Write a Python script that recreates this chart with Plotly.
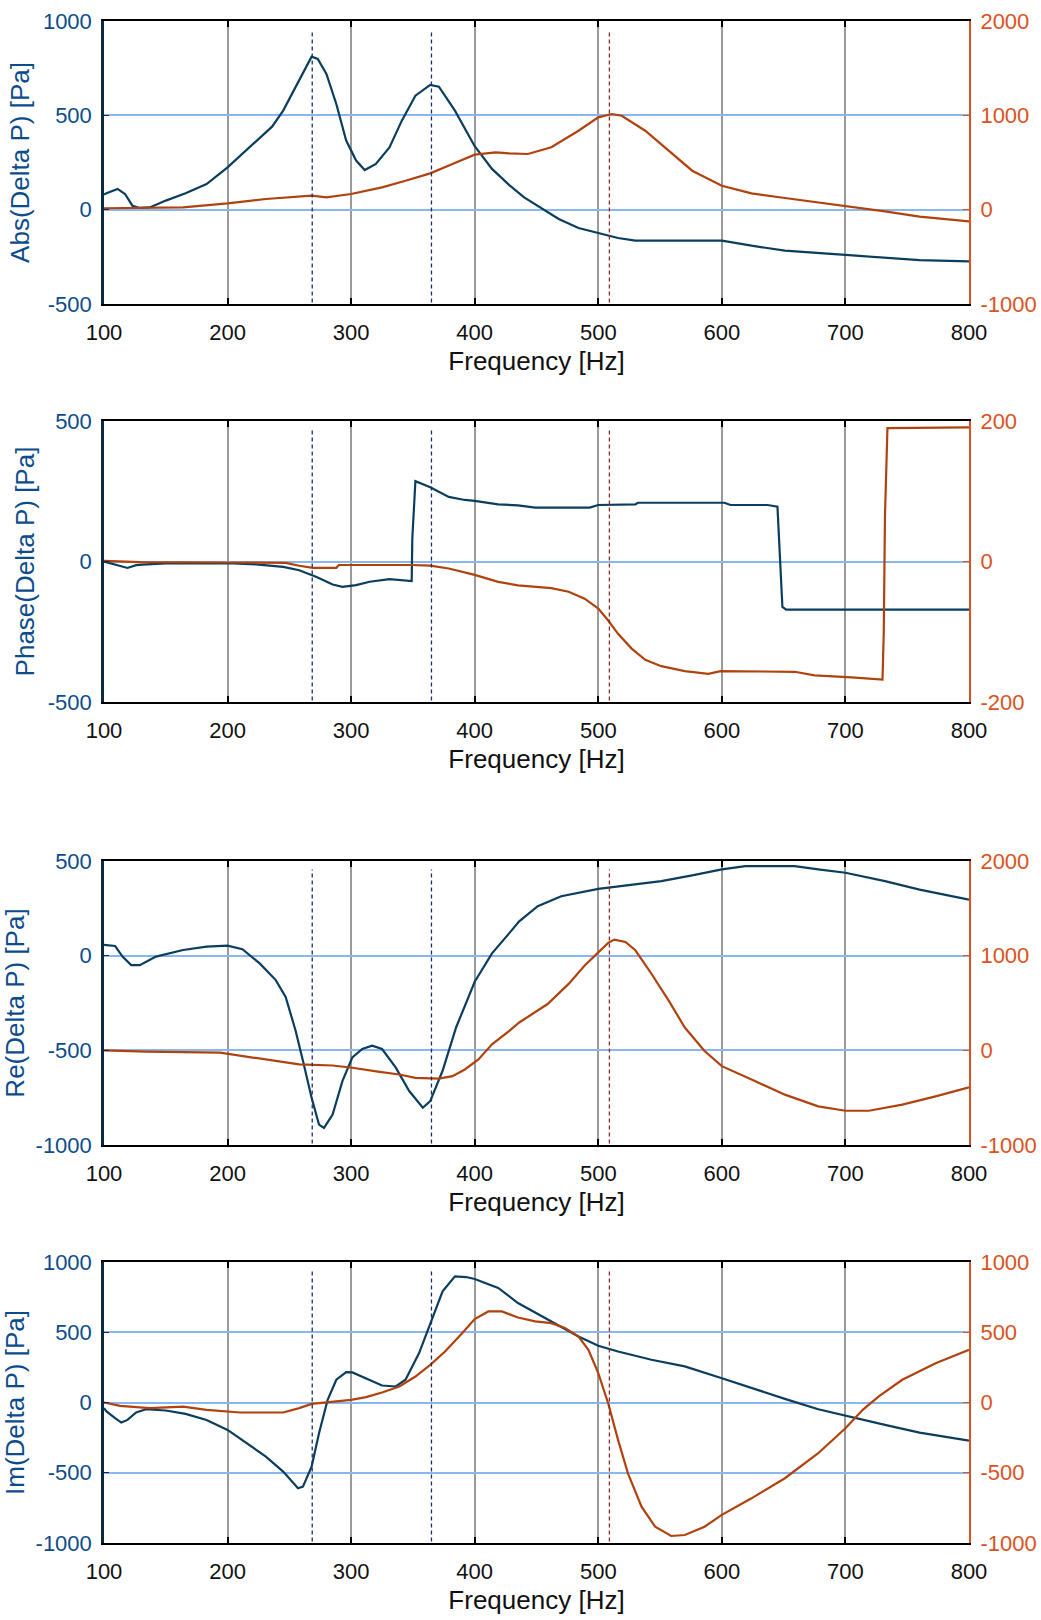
import plotly.graph_objects as go

# ---------------- data ----------------
# Plot 1: Abs(Delta P)
abs_left_f = [100, 102, 111, 117, 123, 129, 137, 150, 166, 183, 200, 218, 236, 245, 258, 268, 273, 280, 288, 296, 304, 311, 320, 331, 341, 352, 364, 371, 384, 400, 414, 428, 440, 451, 468, 484, 500, 516, 530, 600, 624, 651, 700, 732, 760, 800]
abs_left_v = [80, 87, 110, 83, 21, 9, 12, 48, 87, 136, 224, 330, 440, 525, 684, 811, 799, 719, 560, 366, 260, 210, 242, 330, 472, 604, 661, 652, 525, 336, 216, 130, 65, 21, -49, -97, -125, -150, -164, -164, -191, -217, -240, -253, -267, -274]
abs_right_f = [100, 137, 164, 200, 231, 268, 280, 300, 325, 344, 364, 382, 400, 417, 428, 443, 462, 484, 500, 511, 519, 538, 554, 576, 600, 624, 651, 700, 732, 760, 800]
abs_right_v = [15, 25, 25, 67, 113, 148, 131, 166, 237, 307, 385, 484, 583, 608, 597, 590, 661, 837, 979, 1014, 996, 837, 661, 413, 254, 173, 124, 42, -18, -74, -124]

# Plot 2: Phase(Delta P)
ph_left_f = [100, 110, 119, 126, 131, 150, 200, 223, 245, 258, 272, 285, 293, 304, 315, 331, 343, 349, 349.5, 351, 352, 364, 379, 392, 400, 419, 435, 449, 493, 500, 530, 532, 602, 607, 637, 645, 646, 648, 649, 652, 800]
ph_left_v = [0, -11, -23, -13, -11, -7, -6, -10, -19, -31, -55, -82, -90, -84, -72, -63, -67, -70, 82, 242, 286, 264, 230, 219, 216, 203, 200, 192, 192, 201, 203, 209, 209, 201, 201, 195, 112, -55, -162, -171, -171]
ph_right_f = [100, 129, 200, 247, 258, 269, 288, 290, 349, 364, 379, 400, 419, 435, 462, 476, 489, 500, 508, 516, 527, 538, 551, 570, 589, 599, 659, 675, 705, 730, 731, 732, 734, 800]
ph_right_v = [1, -1, -1.4, -2, -6, -9, -9, -5, -5, -6, -10, -19, -29, -34, -38, -43, -53, -67, -84, -103, -124, -140, -149, -156, -160, -156, -157, -162, -165, -168, -103, 64, 190, 191]

# Plot 3: Re(Delta P)
re_left_f = [100, 109, 115, 122, 129, 142, 164, 183, 200, 212, 226, 239, 247, 255, 261, 268, 274, 278, 285, 293, 301, 309, 317, 325, 336, 347, 358, 364, 374, 385, 400, 414, 428, 436, 451, 470, 500, 516, 551, 576, 600, 619, 659, 678, 700, 732, 760, 800]
re_left_v = [57, 51, -5, -50, -50, -5, 30, 48, 53, 34, -41, -129, -218, -395, -555, -750, -892, -910, -839, -661, -537, -493, -475, -493, -590, -715, -803, -768, -608, -378, -138, 12, 119, 181, 261, 314, 353, 367, 394, 424, 456, 473, 473, 456, 438, 394, 349, 296]
re_right_f = [100, 134, 194, 218, 239, 258, 285, 301, 323, 339, 352, 371, 382, 392, 403, 414, 428, 436, 459, 476, 489, 500, 508, 513, 522, 530, 543, 557, 570, 586, 600, 624, 651, 678, 700, 719, 746, 773, 800]
re_right_v = [0, -14, -25, -71, -113, -149, -160, -184, -227, -255, -291, -298, -273, -202, -96, 64, 206, 294, 489, 702, 897, 1039, 1135, 1170, 1145, 1057, 809, 525, 241, -7, -167, -309, -468, -592, -638, -638, -574, -486, -390]

# Plot 4: Im(Delta P)
im_left_f = [100, 102, 109, 114, 119, 126, 134, 150, 166, 183, 200, 218, 231, 245, 257, 261, 268, 274, 281, 288, 296, 301, 312, 325, 336, 344, 355, 364, 374, 384, 393, 400, 419, 435, 462, 484, 500, 516, 543, 570, 600, 624, 651, 678, 700, 732, 760, 800]
im_left_v = [-40, -64, -112, -143, -124, -71, -48, -57, -81, -124, -195, -302, -385, -492, -610, -599, -456, -219, 19, 162, 216, 214, 173, 121, 114, 162, 352, 565, 791, 898, 893, 879, 815, 708, 577, 470, 404, 363, 304, 257, 173, 102, 26, -48, -95, -159, -214, -271]
im_right_f = [100, 113, 137, 164, 183, 210, 245, 258, 268, 280, 300, 312, 325, 339, 352, 364, 376, 390, 400, 411, 422, 435, 449, 462, 473, 484, 492, 500, 508, 516, 524, 535, 546, 559, 570, 586, 600, 624, 651, 678, 700, 714, 727, 746, 773, 800]
im_right_v = [0, -24, -40, -29, -52, -71, -71, -40, -10, 2, 19, 38, 71, 114, 185, 268, 363, 494, 594, 648, 648, 605, 577, 565, 530, 470, 375, 209, -5, -266, -504, -741, -884, -950, -943, -884, -800, -682, -539, -361, -183, -52, 43, 162, 280, 375]

# marker frequencies (dashed lines)
blue_marks = [268.5, 365]
red_marks = [509]

x_ticks = [100, 200, 300, 400, 500, 600, 700, 800]
left_labels = ["Abs(Delta P) [Pa]", "Phase(Delta P) [Pa]", "Re(Delta P) [Pa]", "Im(Delta P) [Pa]"]
left_ranges = [[-500, 1000], [-500, 500], [-1000, 500], [-1000, 1000]]
left_ticks = [[-500, 0, 500, 1000], [-500, 0, 500], [-1000, -500, 0, 500], [-1000, -500, 0, 500, 1000]]
right_ranges = [[-1000, 2000], [-200, 200], [-1000, 2000], [-1000, 1000]]
right_ticks = [[-1000, 0, 1000, 2000], [-200, 0, 200], [-1000, 0, 1000, 2000], [-1000, -500, 0, 500, 1000]]

series = [
    (abs_left_f, abs_left_v, abs_right_f, abs_right_v),
    (ph_left_f, ph_left_v, ph_right_f, ph_right_v),
    (re_left_f, re_left_v, re_right_f, re_right_v),
    (im_left_f, im_left_v, im_right_f, im_right_v),
]

# ---------------- style ----------------
W, H = 1041, 1620
FONT = "Liberation Sans, Arial, Helvetica, sans-serif"
BLUE_LINE = "#0b3d5e"
ORANGE_LINE = "#b0420e"
BLUE_TXT = "#0d4c8c"
ORANGE_TXT = "#d9531e"
GRID_V = "#9a9a9a"
GRID_H = "#8ab8ee"
TICK_SIZE = 22
XTITLE_SIZE = 26
YTITLE_SIZE = 26

x0_px, x1_px = 104, 969
plots_px = [(21, 304), (421, 702), (861, 1145), (1262, 1543)]

fig = go.Figure()
layout = dict(
    width=W, height=H,
    margin=dict(l=0, r=0, t=0, b=0),
    paper_bgcolor="white", plot_bgcolor="white",
    showlegend=False,
    font=dict(family=FONT, size=TICK_SIZE, color="black"),
)
shapes = []

for i in range(4):
    k = i + 1
    xa = "x" if k == 1 else f"x{k}"
    yl_n = 2 * i + 1
    yr_n = 2 * i + 2
    yl = "y" if yl_n == 1 else f"y{yl_n}"
    yr = f"y{yr_n}"
    lf, lv, rf, rv = series[i]

    fig.add_trace(go.Scatter(x=lf, y=lv, xaxis=xa, yaxis=yl, mode="lines",
                             line=dict(color=BLUE_LINE, width=2.2)))
    fig.add_trace(go.Scatter(x=rf, y=rv, xaxis=xa, yaxis=yr, mode="lines",
                             line=dict(color=ORANGE_LINE, width=2.2)))

    top, bot = plots_px[i]
    ydom = [1 - bot / H, 1 - top / H]
    xdom = [x0_px / W, x1_px / W]

    layout["xaxis" if k == 1 else f"xaxis{k}"] = dict(
        domain=xdom, anchor=yl, range=[100, 800], automargin=False,
        tickvals=x_ticks, ticktext=[str(t) for t in x_ticks],
        ticks="inside", ticklen=6, tickcolor="black", tickwidth=1.5,
        showline=True, linecolor="black", linewidth=2, mirror="ticks",
        showgrid=True, gridcolor=GRID_V, gridwidth=2,
        zeroline=False, ticklabelstandoff=8,
        tickfont=dict(family=FONT, size=TICK_SIZE, color="#111111"),
        title=dict(text="Frequency [Hz]", standoff=7,
                   font=dict(family=FONT, size=XTITLE_SIZE, color="#111111")),
    )
    lt = left_ticks[i]
    layout["yaxis" if yl_n == 1 else f"yaxis{yl_n}"] = dict(
        domain=ydom, anchor=xa, range=left_ranges[i], automargin=False,
        tickvals=lt, ticktext=[str(t) for t in lt],
        ticks="inside", ticklen=5, tickcolor="#0a2a4a",
        showline=True, linecolor="#0a2a44", linewidth=2.5,
        showgrid=True, gridcolor=GRID_H, gridwidth=2,
        zeroline=False, ticklabelstandoff=5,
        tickfont=dict(family=FONT, size=TICK_SIZE, color=BLUE_TXT),
        title=dict(text=left_labels[i], standoff=6,
                   font=dict(family=FONT, size=YTITLE_SIZE, color=BLUE_TXT)),
    )
    rt = right_ticks[i]
    layout[f"yaxis{yr_n}"] = dict(
        overlaying=yl, side="right", anchor=xa, range=right_ranges[i], automargin=False,
        tickvals=rt, ticktext=[str(t) for t in rt],
        ticks="inside", ticklen=6, tickcolor=ORANGE_TXT,
        showline=True, linecolor=ORANGE_TXT, linewidth=2,
        showgrid=False, zeroline=False, ticklabelstandoff=5,
        tickfont=dict(family=FONT, size=TICK_SIZE, color=ORANGE_TXT),
    )

    for m in blue_marks:
        shapes.append(dict(type="line", xref=xa, yref=f"{yl} domain",
                           x0=m, x1=m, y0=0.005, y1=0.97,
                           line=dict(color="#1a2f70", width=1.3, dash="4px,3px")))
    for m in red_marks:
        shapes.append(dict(type="line", xref=xa, yref=f"{yl} domain",
                           x0=m, x1=m, y0=0.005, y1=0.97,
                           line=dict(color="#8e2a22", width=1.3, dash="4px,3px")))

layout["shapes"] = shapes
fig.update_layout(**layout)
fig.write_html("out.html")
